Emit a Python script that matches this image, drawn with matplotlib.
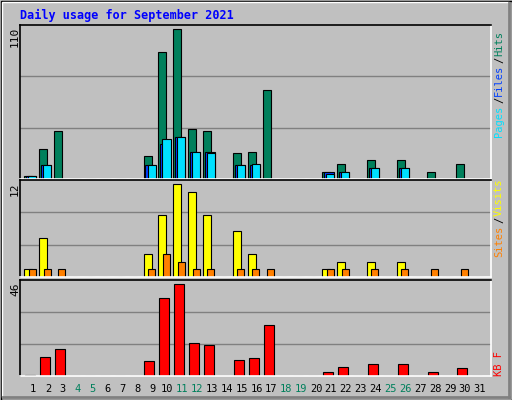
import matplotlib
matplotlib.use("Agg")
import matplotlib.pyplot as plt
from matplotlib.patches import Rectangle
import numpy as np

days = list(range(1, 32))
hits  = [2,22,35,0,0,0,0,0,17,93,110,37,35,0,19,20,65,0,0,0,5,11,0,14,0,14,0,5,0,11,0]
files = [2,10,0,0,0,0,0,0,10,26,31,20,20,0,10,10,0,0,0,0,5,5,0,8,0,8,0,0,0,0,0]
pages = [2,10,0,0,0,0,0,0,10,29,31,20,19,0,10,11,0,0,0,0,4,5,0,8,0,8,0,0,0,0,0]
visits= [1,5,0,0,0,0,0,0,3,8,12,11,8,0,6,3,0,0,0,0,1,2,0,2,0,2,0,0,0,0,0]
sites = [1,1,1,0,0,0,0,0,1,3,2,1,1,0,1,1,1,0,0,0,1,1,0,1,0,1,0,1,0,1,0]
kbytes= [0.3,9.7,13.8,0,0,0,0,0,7.7,39,46,16.8,15.8,0,8.2,9.2,25.4,0,0,0,2.2,4.7,0,6.2,0,6.2,0,2.2,0,4.2,0]
weekend = {4,5,11,12,18,19,25,26}
title = "Daily usage for September 2021"

BG = "#C0C0C0"
W, H = 512, 400
fig = plt.figure(figsize=(W/100, H/100), dpi=100, facecolor=BG)
mono = "DejaVu Sans Mono"

frame = fig.add_axes([0, 0, 1, 1]); frame.set_xlim(0, W); frame.set_ylim(H, 0); frame.axis("off")
frame.add_patch(Rectangle((0.5, 0.5), W-1, H-1, fill=False, ec="black", lw=1))
frame.add_patch(Rectangle((2, 2), W-5, H-5, fill=False, ec="white", lw=1))
frame.plot([3, W-3], [H-3, H-3], color="#808080", lw=2)
frame.plot([W-3, W-3], [3, H-3], color="#808080", lw=2)
frame.text(20, 15, title, color="#0000FF", fontsize=8.5, fontweight="bold", family=mono, va="center")

XL, XR = 20, 491
xlim = (1 - 13/14.9, 31.74)

def panel(top, bottom, ymax):
    ax = fig.add_axes([XL/W, 1-bottom/H, (XR-XL)/W, (bottom-top)/H])
    ax.set_facecolor(BG)
    ax.set_xlim(*xlim); ax.set_ylim(0, ymax)
    ax.set_xticks([]); ax.set_yticks([])
    for y in (ymax/3, 2*ymax/3):
        ax.axhline(y, color="#808080", lw=1, zorder=0)
    for s in ("left", "top"):
        ax.spines[s].set_color("black")
    for s in ("right", "bottom"):
        ax.spines[s].set_color("white")
    for s in ax.spines.values():
        s.set_linewidth(1.2)
    return ax

d = np.array(days)
a1 = panel(25, 179, 113)
a1.bar(d-0.58, hits, width=0.54, align="edge", color="#00805C", ec="black", lw=0.8)
a1.bar(d-0.45, files, width=0.67, align="edge", color="#0040FF", ec="black", lw=0.8)
a1.bar(d-0.31, pages, width=0.54, align="edge", color="#00E0FF", ec="black", lw=0.8)

a2 = panel(180, 277, 12.56)
a2.bar(d-0.58, visits, width=0.54, align="edge", color="#FFFF00", ec="black", lw=0.8)
a2.bar(d-0.29, sites, width=0.47, align="edge", color="#FF8000", ec="black", lw=0.8)

a3 = panel(280, 376, 48.2)
a3.bar(d-0.52, kbytes, width=0.67, align="edge", color="#FF0000", ec="black", lw=0.8)

for y, lab in ((27, str(max(hits))), (182, str(max(visits))), (283, str(int(max(kbytes))))):
    frame.text(15, y, lab, rotation=90, fontsize=8, family=mono, ha="center", va="top")

for i in days:
    px = XL + (i - xlim[0]) / (xlim[1]-xlim[0]) * (XR-XL)
    frame.text(px, 389, str(i), fontsize=7.5, family=mono, ha="center", va="center",
               color="#00805C" if i in weekend else "black")

def vlabel(y, parts, step=6.75):
    cur = y
    for txt, col in parts:
        frame.text(499, cur, txt, rotation=90, fontsize=7.5, family=mono, color=col,
                   ha="center", va="bottom")
        cur -= len(txt) * step
vlabel(137, [("Pages", "#00E0FF"), ("/", "black"), ("Files", "#0040FF"), ("/", "black"), ("Hits", "#00805C")])
vlabel(257, [("Sites", "#FF8000"), ("/", "black"), ("Visits", "#FFFF00")])
vlabel(376, [("KB F", "#FF0000")])

fig.savefig("out.png", dpi=100, facecolor=BG)
